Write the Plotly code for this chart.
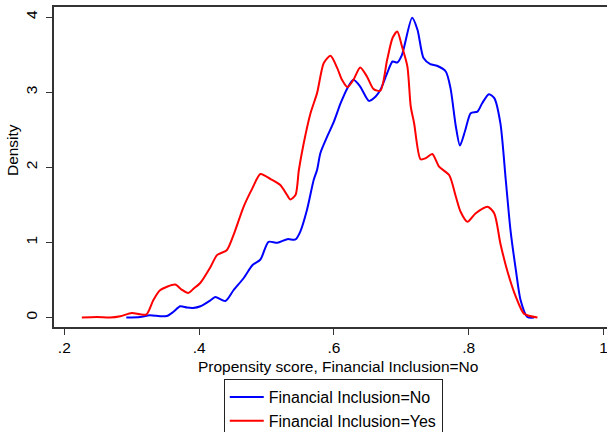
import plotly.graph_objects as go

# Kernel density of the propensity score, by financial-inclusion status
score_no = [0.292, 0.3125, 0.327, 0.342, 0.352, 0.3615, 0.372, 0.382, 0.391, 0.402,
            0.417, 0.424, 0.439, 0.451, 0.466, 0.479, 0.491, 0.503, 0.516, 0.531,
            0.543, 0.550, 0.560, 0.570, 0.575, 0.580, 0.590, 0.600, 0.610, 0.620,
            0.629, 0.639, 0.652, 0.662, 0.669, 0.679, 0.687, 0.694, 0.701, 0.716,
            0.724, 0.733, 0.743, 0.753, 0.766, 0.773, 0.781, 0.787, 0.795, 0.803,
            0.813, 0.820, 0.830, 0.838, 0.847, 0.855, 0.862, 0.870, 0.877, 0.887,
            0.897]
density_no = [0.0, 0.008, 0.031, 0.017, 0.021, 0.075, 0.151, 0.133, 0.128, 0.151,
              0.231, 0.275, 0.221, 0.364, 0.524, 0.697, 0.773, 1.008, 0.995, 1.044,
              1.040, 1.141, 1.431, 1.831, 1.964, 2.19, 2.408, 2.608, 2.853, 3.053,
              3.164, 3.075, 2.884, 2.941, 3.031, 3.253, 3.408, 3.395, 3.497, 3.99,
              3.831, 3.453, 3.373, 3.351, 3.275, 3.053, 2.540, 2.289, 2.497, 2.720,
              2.741, 2.853, 2.973, 2.920, 2.587, 1.831, 1.164, 0.631, 0.231, 0.008,
              0.0]

score_yes = [0.226, 0.248, 0.268, 0.283, 0.300, 0.3125, 0.322, 0.332, 0.342, 0.3645,
             0.374, 0.384, 0.392, 0.402, 0.417, 0.4265, 0.441, 0.451, 0.466, 0.479,
             0.491, 0.506, 0.5205, 0.5305, 0.535, 0.543, 0.548, 0.555, 0.565, 0.575,
             0.585, 0.595, 0.605, 0.612, 0.620, 0.629, 0.639, 0.649, 0.659, 0.669,
             0.679, 0.687, 0.694, 0.701, 0.709, 0.714, 0.719, 0.7285, 0.736, 0.746,
             0.756, 0.771, 0.781, 0.788, 0.798, 0.810, 0.828, 0.838, 0.847, 0.857,
             0.870, 0.882, 0.902]
density_yes = [0.0, 0.008, 0.0, 0.017, 0.061, 0.044, 0.044, 0.231, 0.364, 0.440,
               0.373, 0.328, 0.387, 0.464, 0.675, 0.831, 0.897, 1.097, 1.475, 1.720,
               1.911, 1.844, 1.764, 1.631, 1.573, 1.631, 1.964, 2.31, 2.71, 2.987,
               3.387, 3.484, 3.320, 3.164, 3.067, 3.164, 3.328, 3.209, 3.04, 3.02,
               3.431, 3.720, 3.808, 3.608, 3.342, 2.809, 2.587, 2.107, 2.120, 2.177,
               2.008, 1.897, 1.608, 1.408, 1.275, 1.386, 1.475, 1.386, 0.987, 0.631,
               0.276, 0.053, 0.0]

x_ticks = [0.2, 0.4, 0.6, 0.8, 1.0]
x_tick_labels = [".2", ".4", ".6", ".8", "1"]
y_ticks = [0, 1, 2, 3, 4]

FONT = "Liberation Sans, Arial, Helvetica, sans-serif"
AXIS = "#333333"
FS = 15.5

fig = go.Figure()
fig.add_trace(go.Scatter(
    x=score_no, y=density_no, mode="lines", name="Financial Inclusion=No",
    line=dict(color="#0000ff", width=2, shape="spline", smoothing=0.7),
))
fig.add_trace(go.Scatter(
    x=score_yes, y=density_yes, mode="lines", name="Financial Inclusion=Yes",
    line=dict(color="#ff0000", width=2, shape="spline", smoothing=0.7),
))

fig.update_layout(
    width=607, height=432,
    margin=dict(l=54, r=0, t=7, b=105, autoexpand=False),
    paper_bgcolor="white", plot_bgcolor="white",
    font=dict(family=FONT, size=FS, color="black"),
    showlegend=True,
    legend=dict(
        x=0.505, xanchor="center", y=-0.163, yanchor="top",
        bordercolor="#222222", borderwidth=1, bgcolor="white",
        font=dict(family=FONT, size=16, color="black"),
        tracegroupgap=0, itemwidth=34, entrywidth=184, entrywidthmode="pixels",
    ),
    xaxis=dict(
        range=[0.1847, 1.0052], tickvals=x_ticks, ticktext=x_tick_labels,
        ticks="outside", ticklen=6, tickwidth=1, tickcolor=AXIS,
        showline=True, linecolor=AXIS, linewidth=1.5, mirror=True,
        showgrid=False, zeroline=False, ticklabeloverflow="allow",
        tickfont=dict(family=FONT, size=FS, color="black"),
    ),
    yaxis=dict(
        range=[-0.125, 4.133], tickvals=y_ticks,
        ticks="outside", ticklen=6, tickwidth=1, tickcolor=AXIS, tickangle=-90,
        ticklabelstandoff=3,
        showline=True, linecolor=AXIS, linewidth=1.5,
        showgrid=False, zeroline=False,
        tickfont=dict(family=FONT, size=FS, color="black"),
    ),
    annotations=[
        dict(text="Propensity score, Financial Inclusion=No", xref="paper", yref="paper",
             x=0.5136, y=-0.124, xanchor="center", yanchor="middle", showarrow=False,
             font=dict(family=FONT, size=FS, color="black")),
        dict(text="Density", xref="paper", yref="paper", textangle=-90,
             x=-0.0759, y=0.553, xanchor="center", yanchor="middle", showarrow=False,
             font=dict(family=FONT, size=FS, color="black")),
    ],
)

fig.write_html("out.html")
